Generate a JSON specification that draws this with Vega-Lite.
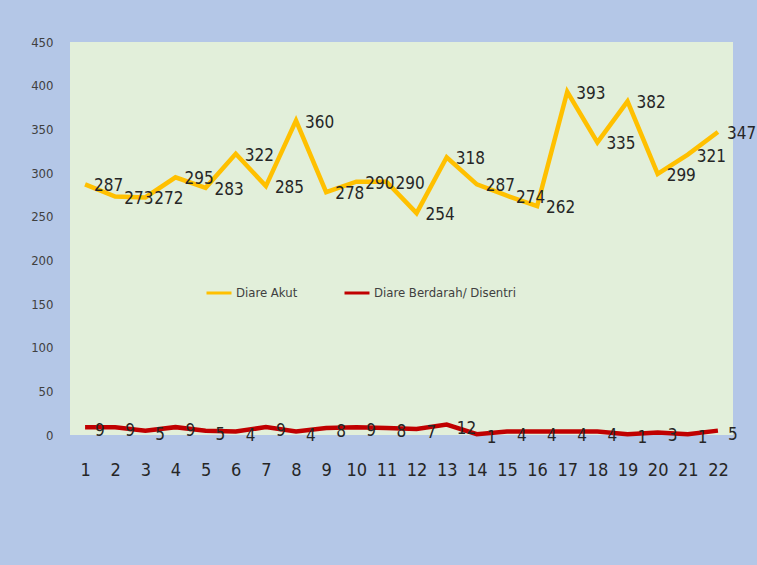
{
  "$schema": "https://vega.github.io/schema/vega-lite/v6.json",
  "width": 663,
  "height": 393,
  "autosize": {"type": "none"},
  "padding": {"left": 70, "top": 42, "right": 24, "bottom": 130},
  "background": "#b4c7e7",
  "config": {
    "view": {"fill": "#e2efda", "stroke": null},
    "font": "DejaVu Sans Condensed, Liberation Sans Narrow, Roboto Condensed, sans-serif"
  },
  "data": {
    "values": [
      {"hari": 1, "seri": "Diare Akut", "nilai": 287},
      {"hari": 2, "seri": "Diare Akut", "nilai": 273},
      {"hari": 3, "seri": "Diare Akut", "nilai": 272},
      {"hari": 4, "seri": "Diare Akut", "nilai": 295},
      {"hari": 5, "seri": "Diare Akut", "nilai": 283},
      {"hari": 6, "seri": "Diare Akut", "nilai": 322},
      {"hari": 7, "seri": "Diare Akut", "nilai": 285},
      {"hari": 8, "seri": "Diare Akut", "nilai": 360},
      {"hari": 9, "seri": "Diare Akut", "nilai": 278},
      {"hari": 10, "seri": "Diare Akut", "nilai": 290},
      {"hari": 11, "seri": "Diare Akut", "nilai": 290},
      {"hari": 12, "seri": "Diare Akut", "nilai": 254},
      {"hari": 13, "seri": "Diare Akut", "nilai": 318},
      {"hari": 14, "seri": "Diare Akut", "nilai": 287},
      {"hari": 15, "seri": "Diare Akut", "nilai": 274},
      {"hari": 16, "seri": "Diare Akut", "nilai": 262},
      {"hari": 17, "seri": "Diare Akut", "nilai": 393},
      {"hari": 18, "seri": "Diare Akut", "nilai": 335},
      {"hari": 19, "seri": "Diare Akut", "nilai": 382},
      {"hari": 20, "seri": "Diare Akut", "nilai": 299},
      {"hari": 21, "seri": "Diare Akut", "nilai": 321},
      {"hari": 22, "seri": "Diare Akut", "nilai": 347},
      {"hari": 1, "seri": "Diare Berdarah/ Disentri", "nilai": 9},
      {"hari": 2, "seri": "Diare Berdarah/ Disentri", "nilai": 9},
      {"hari": 3, "seri": "Diare Berdarah/ Disentri", "nilai": 5},
      {"hari": 4, "seri": "Diare Berdarah/ Disentri", "nilai": 9},
      {"hari": 5, "seri": "Diare Berdarah/ Disentri", "nilai": 5},
      {"hari": 6, "seri": "Diare Berdarah/ Disentri", "nilai": 4},
      {"hari": 7, "seri": "Diare Berdarah/ Disentri", "nilai": 9},
      {"hari": 8, "seri": "Diare Berdarah/ Disentri", "nilai": 4},
      {"hari": 9, "seri": "Diare Berdarah/ Disentri", "nilai": 8},
      {"hari": 10, "seri": "Diare Berdarah/ Disentri", "nilai": 9},
      {"hari": 11, "seri": "Diare Berdarah/ Disentri", "nilai": 8},
      {"hari": 12, "seri": "Diare Berdarah/ Disentri", "nilai": 7},
      {"hari": 13, "seri": "Diare Berdarah/ Disentri", "nilai": 12},
      {"hari": 14, "seri": "Diare Berdarah/ Disentri", "nilai": 1},
      {"hari": 15, "seri": "Diare Berdarah/ Disentri", "nilai": 4},
      {"hari": 16, "seri": "Diare Berdarah/ Disentri", "nilai": 4},
      {"hari": 17, "seri": "Diare Berdarah/ Disentri", "nilai": 4},
      {"hari": 18, "seri": "Diare Berdarah/ Disentri", "nilai": 4},
      {"hari": 19, "seri": "Diare Berdarah/ Disentri", "nilai": 1},
      {"hari": 20, "seri": "Diare Berdarah/ Disentri", "nilai": 3},
      {"hari": 21, "seri": "Diare Berdarah/ Disentri", "nilai": 1},
      {"hari": 22, "seri": "Diare Berdarah/ Disentri", "nilai": 5}
    ]
  },
  "encoding": {
    "x": {
      "field": "hari",
      "type": "ordinal",
      "scale": {"padding": 0.5},
      "axis": {
        "title": null,
        "labelAngle": 0,
        "ticks": false,
        "domain": false,
        "grid": false,
        "labelPadding": 26,
        "labelFontSize": 18,
        "labelColor": "#262626"
      }
    },
    "y": {
      "field": "nilai",
      "type": "quantitative",
      "scale": {"domain": [0, 450]},
      "axis": {
        "title": null,
        "values": [0, 50, 100, 150, 200, 250, 300, 350, 400, 450],
        "ticks": false,
        "domain": false,
        "grid": false,
        "labelPadding": 17,
        "labelFontSize": 13,
        "labelColor": "#404040"
      }
    }
  },
  "layer": [
    {
      "mark": {"type": "line", "strokeWidth": 4.5},
      "encoding": {
        "color": {
          "field": "seri",
          "type": "nominal",
          "scale": {
            "domain": ["Diare Akut", "Diare Berdarah/ Disentri"],
            "range": ["#ffc000", "#c00000"]
          },
          "legend": {
            "title": null,
            "orient": "none",
            "legendX": 135,
            "legendY": 237,
            "direction": "horizontal",
            "symbolType": "stroke",
            "symbolSize": 625,
            "symbolStrokeWidth": 3,
            "labelFontSize": 13,
            "labelColor": "#404040",
            "labelOffset": 3,
            "columnPadding": 40
          }
        }
      }
    },
    {
      "transform": [{"filter": "datum.seri == 'Diare Akut'"}],
      "mark": {"type": "text", "align": "left", "baseline": "middle", "dx": 9, "dy": 2, "fontSize": 17, "color": "#262626"},
      "encoding": {"text": {"field": "nilai", "type": "quantitative"}}
    },
    {
      "transform": [{"filter": "datum.seri != 'Diare Akut'"}],
      "mark": {"type": "text", "align": "left", "baseline": "middle", "dx": 10, "dy": 4, "fontSize": 17, "color": "#262626"},
      "encoding": {"text": {"field": "nilai", "type": "quantitative"}}
    }
  ]
}
